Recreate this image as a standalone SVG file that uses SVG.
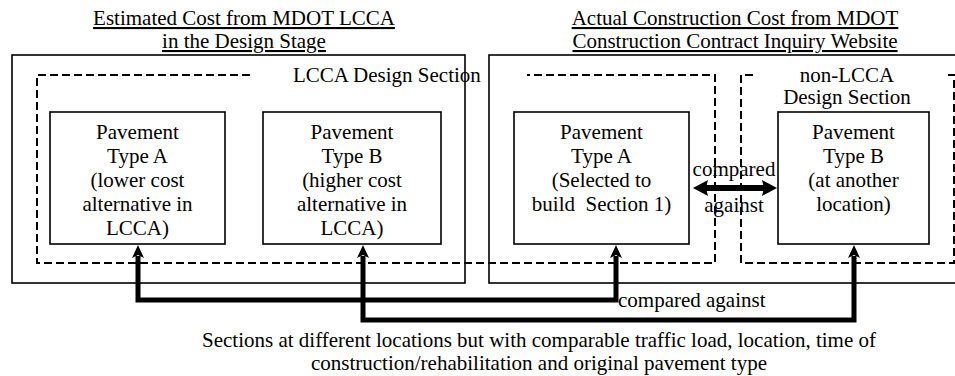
<svg xmlns="http://www.w3.org/2000/svg" width="955" height="376" viewBox="0 0 955 376" font-family="'Liberation Serif', serif">
<style>
text{font-family:'Liberation Serif','DejaVu Serif',serif;font-size:21px;fill:#000}
.c{text-anchor:middle}
.u{text-decoration:underline}
.box{fill:none;stroke:#000;stroke-width:1.6}
.dash{fill:none;stroke:#000;stroke-width:2;stroke-dasharray:8 4}
.conn{fill:none;stroke:#000;stroke-width:5}
.dbl{fill:none;stroke:#000;stroke-width:6}
</style>
<defs>
<marker id="ah" markerUnits="userSpaceOnUse" markerWidth="16" markerHeight="16" viewBox="0 -8 16 16" refX="2" refY="0" orient="auto-start-reverse">
<path d="M13,0 L0,-6 L3,0 L0,6 Z" fill="#000"/>
</marker>
<marker id="ah2" markerUnits="userSpaceOnUse" markerWidth="20" markerHeight="20" viewBox="0 -10 20 20" refX="2" refY="0" orient="auto-start-reverse">
<path d="M15,0 L0,-8 L2,0 L0,8 Z" fill="#000"/>
</marker>
</defs>

<g id="title-left">
<text class="c u" x="244" y="25">Estimated Cost from MDOT LCCA</text>
<text class="c u" x="244" y="48">in the Design Stage</text>
</g>
<g id="title-right">
<text class="c u" x="735" y="25">Actual Construction Cost from MDOT</text>
<text class="c u" x="735" y="48">Construction Contract Inquiry Website</text>
</g>

<g id="outer-left"><rect class="box" x="12" y="55" width="453" height="228"/></g>
<g id="outer-right"><rect class="box" x="489" y="55" width="480" height="228"/></g>

<g id="lcca-section">
<path class="dash" d="M250,75 H37 V263 H715 V75 H527"/>
<text x="293" y="82">LCCA Design Section</text>
</g>
<g id="non-lcca-section">
<path class="dash" d="M753,75 H741 V263 H954 V75 H948"/>
<text class="c" x="847" y="82">non-LCCA</text>
<text class="c" x="847" y="104">Design Section</text>
</g>

<g id="box-left-a">
<rect class="box" x="50" y="112" width="175" height="132"/>
<text class="c" x="137.5" y="139">Pavement</text>
<text class="c" x="137.5" y="163">Type A</text>
<text class="c" x="137.5" y="187">(lower cost</text>
<text class="c" x="137.5" y="211">alternative in</text>
<text class="c" x="137.5" y="235">LCCA)</text>
</g>
<g id="box-left-b">
<rect class="box" x="263" y="112" width="178" height="132"/>
<text class="c" x="352" y="139">Pavement</text>
<text class="c" x="352" y="163">Type B</text>
<text class="c" x="352" y="187">(higher cost</text>
<text class="c" x="352" y="211">alternative in</text>
<text class="c" x="352" y="235">LCCA)</text>
</g>
<g id="box-right-a">
<rect class="box" x="514" y="112" width="175" height="132"/>
<text class="c" x="601.5" y="139">Pavement</text>
<text class="c" x="601.5" y="163">Type A</text>
<text class="c" x="601.5" y="187">(Selected to</text>
<text class="c" x="601.5" y="211" xml:space="preserve">build  Section 1)</text>
</g>
<g id="box-right-b">
<rect class="box" x="778" y="112" width="151" height="132"/>
<text class="c" x="853.5" y="139">Pavement</text>
<text class="c" x="853.5" y="163">Type B</text>
<text class="c" x="853.5" y="187">(at another</text>
<text class="c" x="853.5" y="211">location)</text>
</g>

<g id="connectors">
<path class="conn" d="M138,256 V300 H616 V256" marker-start="url(#ah)" marker-end="url(#ah)"/>
<path class="conn" d="M363,256 V320 H854 V256" marker-start="url(#ah)" marker-end="url(#ah)"/>
<path class="dbl" d="M706,188 H764" marker-start="url(#ah2)" marker-end="url(#ah2)"/>
<text class="c" x="734" y="176">compared</text>
<text class="c" x="734" y="212">against</text>
<text x="618" y="307">compared against</text>
</g>

<g id="footnote">
<text class="c" x="539" y="347">Sections at different locations but with comparable traffic load, location, time of</text>
<text class="c" x="539" y="370">construction/rehabilitation and original pavement type</text>
</g>
</svg>
